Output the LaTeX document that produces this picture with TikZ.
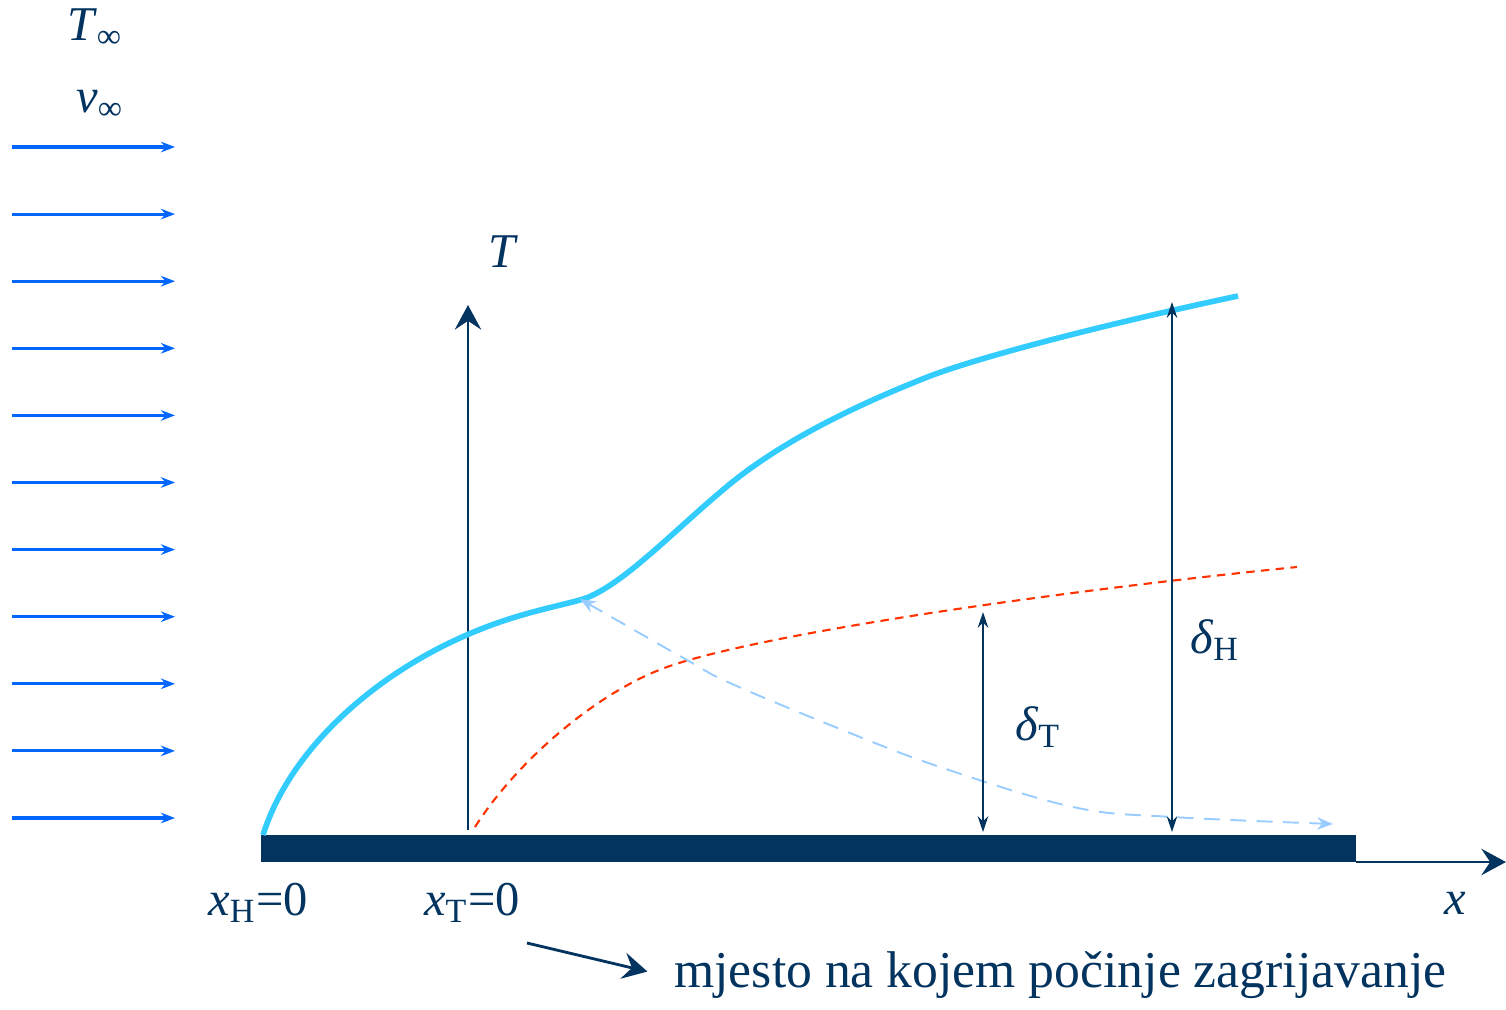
\documentclass[tikz,border=0pt]{standalone}
\usepackage{fontspec}
\setmainfont{Liberation Serif}
\usetikzlibrary{arrows.meta}
\definecolor{navy}{RGB}{3,51,95}
\definecolor{flowblue}{RGB}{0,102,255}
\definecolor{layercyan}{RGB}{51,204,255}
\definecolor{thermred}{RGB}{255,51,0}
\definecolor{paleblue}{RGB}{153,204,255}
\tikzset{
  flow/.style={flowblue, line width=0.9pt, -{Stealth[length=4pt,width=3pt]}},
  axis/.style={navy, line width=0.8pt, -{Stealth[length=7pt,width=7.5pt,inset=2.5pt]}},
  thick/.style={navy, line width=0.6pt, {Stealth[length=4.5pt,width=3pt]}-{Stealth[length=4.5pt,width=3pt]}},
  lbl/.style={text=navy, font=\fontsize{13.8pt}{16pt}\selectfont}
}

\begin{document}
\begin{tikzpicture}[x=1cm,y=1cm]
\useasboundingbox (0,0) rectangle (15.06,10.09);
\foreach \y in {0,...,10}
  \draw[flow] (0.12,{1.91+0.671*\y}) -- (1.75,{1.91+0.671*\y});
\node[lbl] (tinf) at (0.95,9.81) {\textit{T}\textsubscript{∞}};
\node[lbl] (vinf) at (1.0,9.04) {\textit{v}\textsubscript{∞}};
\fill[navy] (2.61,1.47) rectangle (13.56,1.74);
\coordinate (O) at (13.56,1.47);
\coordinate (X) at (15.06,1.47);
\draw[axis] (O) -- (X);
\coordinate (A) at (4.68,1.79);
\coordinate (B) at (4.68,7.04);
\draw[axis] (A) -- (B);
\node[lbl] (tlab) at (5.03,7.57) {\textit{T}};
\draw[layercyan, line width=1.6pt] (2.63,1.74)
  .. controls (2.90,2.60) and (3.75,3.35) .. (4.69,3.75)
  .. controls (5.15,3.95) and (5.55,4.02) .. (5.80,4.09)
  .. controls (6.20,4.20) and (6.75,4.80) .. (7.30,5.25)
  .. controls (7.85,5.70) and (8.60,6.05) .. (9.20,6.29)
  .. controls (9.75,6.52) and (11.20,6.88) .. (12.38,7.13);
\draw[thermred, line width=0.6pt, dash pattern=on 2.4pt off 1.8pt] (4.75,1.82)
  .. controls (5.17,2.48) and (5.97,3.17) .. (6.67,3.42)
  .. controls (7.60,3.75) and (10.50,4.17) .. (12.97,4.42);
\draw[paleblue, line width=0.55pt, dash pattern=on 4.5pt off 3pt,
  {Stealth[length=4.5pt,width=3.5pt]}-{Stealth[length=4.5pt,width=3.5pt]}] plot[smooth, tension=0.6] coordinates {
  (5.80,4.10) (6.87,3.49) (7.30,3.26) (8.40,2.80) (9.40,2.42) (10.73,2.02)
  (11.72,1.92) (13.33,1.85)};
\coordinate (T1) at (9.83,1.77);
\coordinate (T2) at (9.83,3.97);
\draw[thick] (T1) -- (T2);
\coordinate (H1) at (11.72,1.77);
\coordinate (H2) at (11.72,7.07);
\draw[thick] (H1) -- (H2);
\node[lbl] (dt) at (10.38,2.82) {\textit{δ}\textsubscript{T}};
\node[lbl] (dh) at (12.15,3.69) {\textit{δ}\textsubscript{H}};
\node[lbl] (xh) at (2.58,1.06) {\textit{x}\textsubscript{H}=0};
\node[lbl] (xt) at (4.72,1.06) {\textit{x}\textsubscript{T}=0};
\node[lbl] (xlab) at (14.55,1.06) {\textit{x}};
\node[lbl, font=\fontsize{14.7pt}{17pt}\selectfont, anchor=west] (note) at (6.62,0.34) {mjesto na kojem počinje zagrijavanje};
\coordinate (P) at (5.27,0.66);
\draw[axis, shorten >=1.5mm] (P) -- (note.west);
\end{tikzpicture}
\end{document}
